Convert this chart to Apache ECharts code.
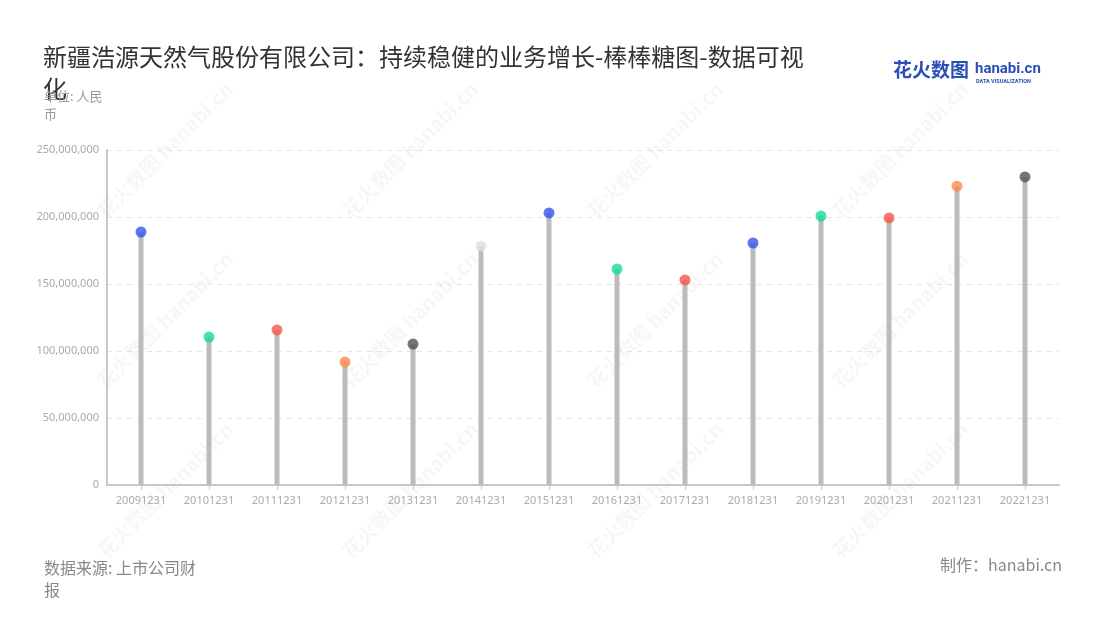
<!DOCTYPE html>
<html>
<head>
<meta charset="utf-8">
<script src="https://cdn.jsdelivr.net/npm/echarts@6/dist/echarts.min.js"></script>
<style>
html,body{margin:0;padding:0;background:#fff;}
#main{width:1100px;height:620px;}
</style>
</head>
<body>
<div id="main"></div>
<script>
var categories = ['20091231','20101231','20111231','20121231','20131231','20141231','20151231','20161231','20171231','20181231','20191231','20201231','20211231','20221231'];
var values = [188800000,110400000,115700000,91800000,105200000,178400000,203000000,161200000,153000000,180600000,200700000,199300000,223000000,229900000];
var dotColors = ['#3456e6','#17dba0','#f8554e','#fd8b4a','#50525c','#dbe1ec','#3456e6','#17dba0','#f8554e','#3456e6','#17dba0','#f8554e','#fd8b4a','#50525c'];
var yTicks = {min:0, max:250000000, interval:50000000};

var chart = echarts.init(document.getElementById('main'));

var wmGraphics = [];
var wmPos = [[165,150],[410,150],[655,150],[900,150],[165,320],[410,320],[655,320],[900,320],[165,490],[410,490],[655,490],[900,490]];
wmPos.forEach(function(p){
  wmGraphics.push({type:'text', x:p[0], y:p[1], rotation:Math.PI/4, z:-1,
    style:{text:'花火数图 hanabi.cn', font:'bold 20px "Noto Sans CJK SC"', fill:'rgba(0,0,0,0.035)', textAlign:'center', textVerticalAlign:'middle'}});
});

var option = {
  backgroundColor:'#fff',
  title:[{
    text:'新疆浩源天然气股份有限公司：持续稳健的业务增长-棒棒糖图-数据可视化',
    left:38, top:36,
    textStyle:{fontSize:24, fontWeight:'normal', color:'#333', fontFamily:'"Noto Sans CJK SC"', width:765, overflow:'break', lineHeight:32}
  },{
    text:'单位: 人民币',
    left:39, top:82,
    textStyle:{fontSize:13, fontWeight:'normal', color:'#999', fontFamily:'"Noto Sans CJK SC"', width:68, overflow:'break', lineHeight:18}
  },{
    text:'数据来源: 上市公司财报',
    left:39, top:552,
    textStyle:{fontSize:16, fontWeight:'normal', color:'#888', fontFamily:'"Noto Sans CJK SC"', width:165, overflow:'break', lineHeight:22}
  },{
    text:'制作：hanabi.cn',
    right:33, top:552,
    textStyle:{fontSize:16, fontWeight:'normal', color:'#888', fontFamily:'"Noto Sans CJK SC"'}
  }],
  graphic: wmGraphics.concat([
    {type:'text', left:893, top:60, style:{text:'花火数图', font:'bold 19px "Noto Sans CJK SC"', fill:'#2a4fb8'}},
    {type:'text', left:975, top:62, style:{text:'hanabi.cn', font:'bold 15px Roboto', fill:'#2a4fb8'}},
    {type:'text', left:976, top:79, style:{text:'DATA VISUALIZATION', font:'bold 5.5px Roboto', fill:'#2a4fb8'}}
  ]),
  grid:{left:107, right:41, top:150, bottom:135, containLabel:false},
  xAxis:{
    type:'category', data:categories,
    axisLine:{lineStyle:{color:'#c8c8c8', width:2}},
    axisTick:{show:true, alignWithLabel:true, lineStyle:{color:'#c8c8c8'}},
    axisLabel:{color:'#aaa', fontSize:11, margin:10, interval:0, fontFamily:'"Noto Sans"'}
  },
  yAxis:{
    type:'value', min:yTicks.min, max:yTicks.max, interval:yTicks.interval,
    axisLine:{show:true, lineStyle:{color:'#c8c8c8', width:2}},
    axisTick:{show:false},
    splitLine:{lineStyle:{color:'#e4e4e4', type:[5,5]}},
    axisLabel:{color:'#aaa', fontSize:11, margin:8, fontFamily:'"Noto Sans"',
      formatter:function(v){return v.toLocaleString('en-US');}}
  },
  series:[{
    type:'bar', data:values, barWidth:5, itemStyle:{color:'#bbbbbb'}, silent:true, z:2
  },{
    type:'scatter', symbol:'circle', symbolSize:11, z:3,
    data:values.map(function(v,i){return {value:v, itemStyle:{color:dotColors[i]}};})
  }]
};
chart.setOption(option);
</script>
</body>
</html>
